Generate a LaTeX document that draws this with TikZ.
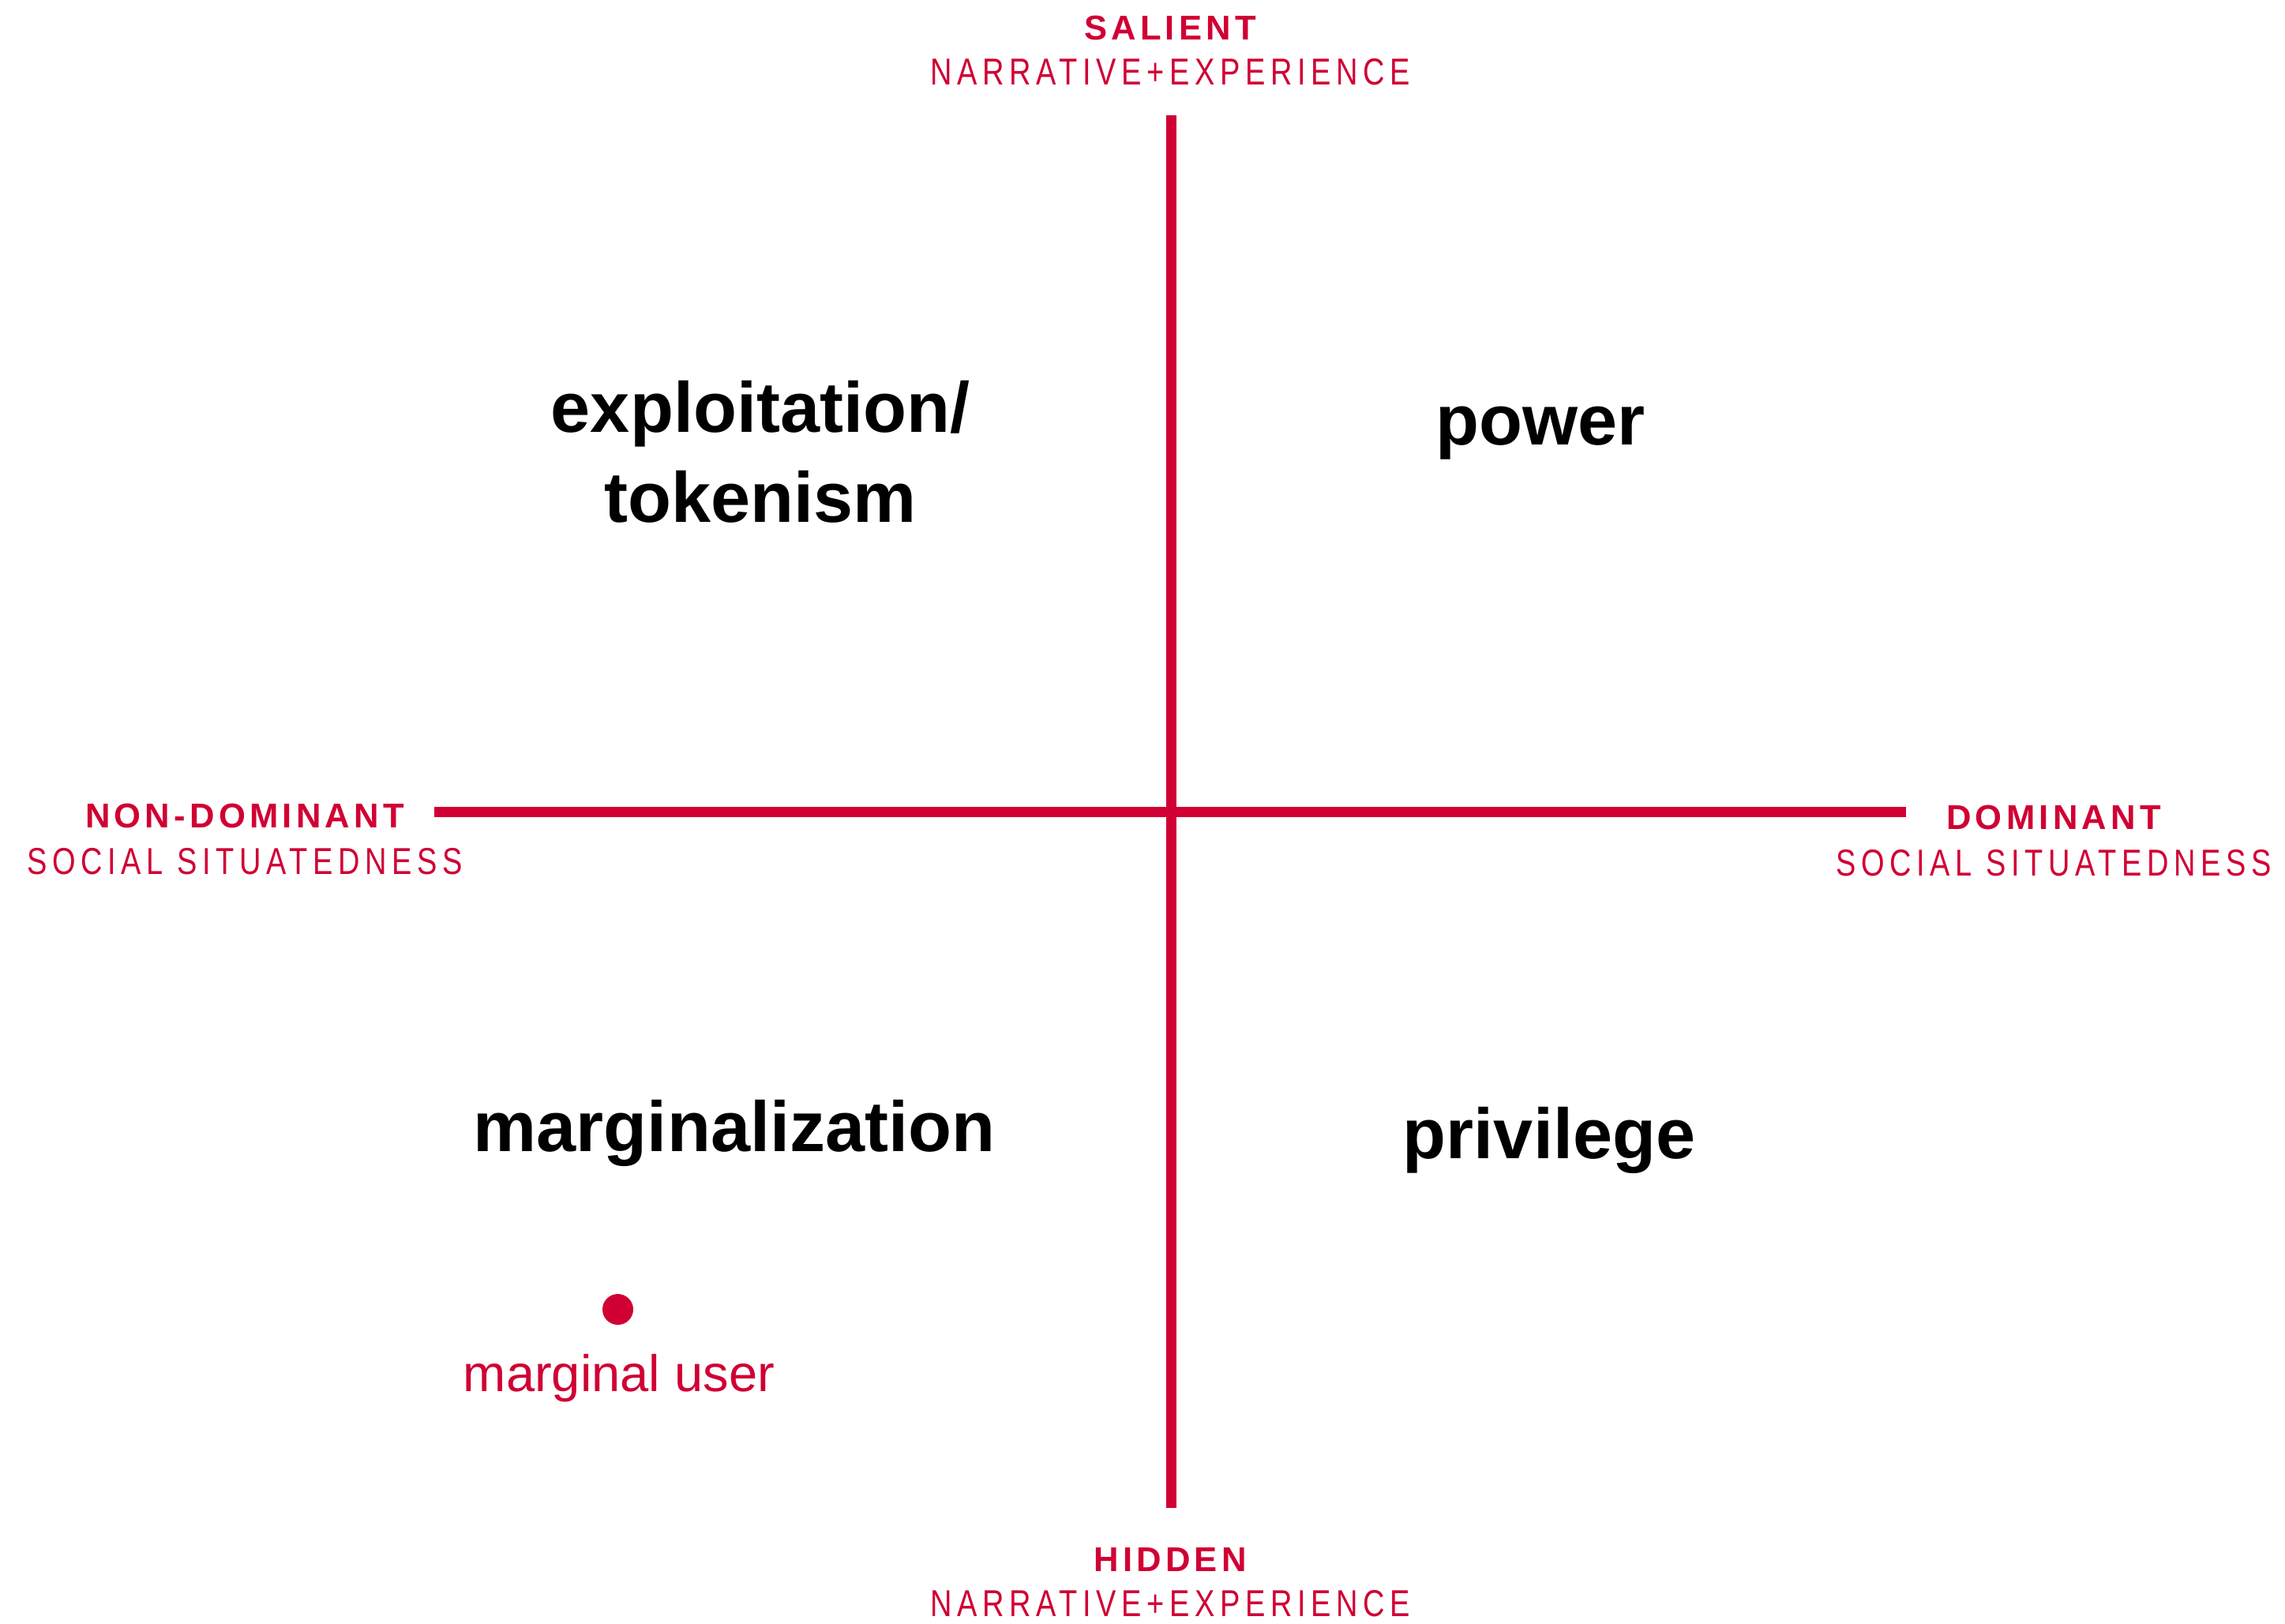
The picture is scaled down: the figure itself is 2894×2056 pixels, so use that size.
\documentclass[tikz,border=0pt]{standalone}
\usepackage{fontspec}
\setmainfont{Liberation Sans}
\newfontfamily\capsfont[LetterSpace=12]{Liberation Sans}
\newfontfamily\thinfont[FakeStretch=0.8,LetterSpace=14]{Liberation Sans}
\definecolor{crimson}{RGB}{208,0,52}

\tikzstyle{quadrant} = [font=\fontsize{25.6}{32.4}\selectfont\bfseries, align=center, inner sep=0pt]
\tikzstyle{axishead} = [text=crimson, font=\capsfont\fontsize{12.4}{14}\selectfont\bfseries, inner sep=0pt]
\tikzstyle{axissub} = [text=crimson, font=\thinfont\fontsize{13.5}{15}\selectfont, inner sep=0pt]
\tikzstyle{axis} = [draw=crimson, line width=3.7pt]

\begin{document}
\begin{tikzpicture}[x=0.01cm, y=-0.01cm]
    \useasboundingbox (0,0) rectangle (2894,2056);

    % axes
    \coordinate (top) at (1483,146);
    \coordinate (bottom) at (1483,1910);
    \coordinate (left) at (550,1028.5);
    \coordinate (right) at (2414,1028.5);
    \draw [axis] (top) -- (bottom);
    \draw [axis] (left) -- (right);

    % vertical axis labels
    \node at (1482,50) [axishead, anchor=base] (salient) {SALIENT};
    \node at (1482,107) [axissub, anchor=base] (salientsub) {NARRATIVE+EXPERIENCE};
    \node at (1482,1990) [axishead, anchor=base] (hidden) {HIDDEN};
    \node at (1482,2047) [axissub, anchor=base] (hiddensub) {NARRATIVE+EXPERIENCE};

    % horizontal axis labels
    \node at (310,1048) [axishead, anchor=base] (nondom) {NON-DOMINANT};
    \node at (310,1107) [axissub, anchor=base] (nondomsub) {SOCIAL SITUATEDNESS};
    \node at (2601,1050) [axishead, anchor=base] (dom) {DOMINANT};
    \node at (2601,1109) [axissub, anchor=base] (domsub) {SOCIAL SITUATEDNESS};

    % quadrants
    \node at (963,661) [quadrant, anchor=base] (exploit) {exploitation/\\tokenism};
    \node at (1951,563) [quadrant, anchor=base] (power) {power};
    \node at (930,1458) [quadrant, anchor=base] (margin) {marginalization};
    \node at (1962,1467) [quadrant, anchor=base] (privilege) {privilege};

    % marginal user
    \fill [crimson] (782.5,1658.5) circle [radius=19.5];
    \node at (784,1762) [text=crimson, font=\fontsize{18.5}{22}\selectfont, inner sep=0pt, anchor=base] (user) {marginal user};

\end{tikzpicture}
\end{document}
